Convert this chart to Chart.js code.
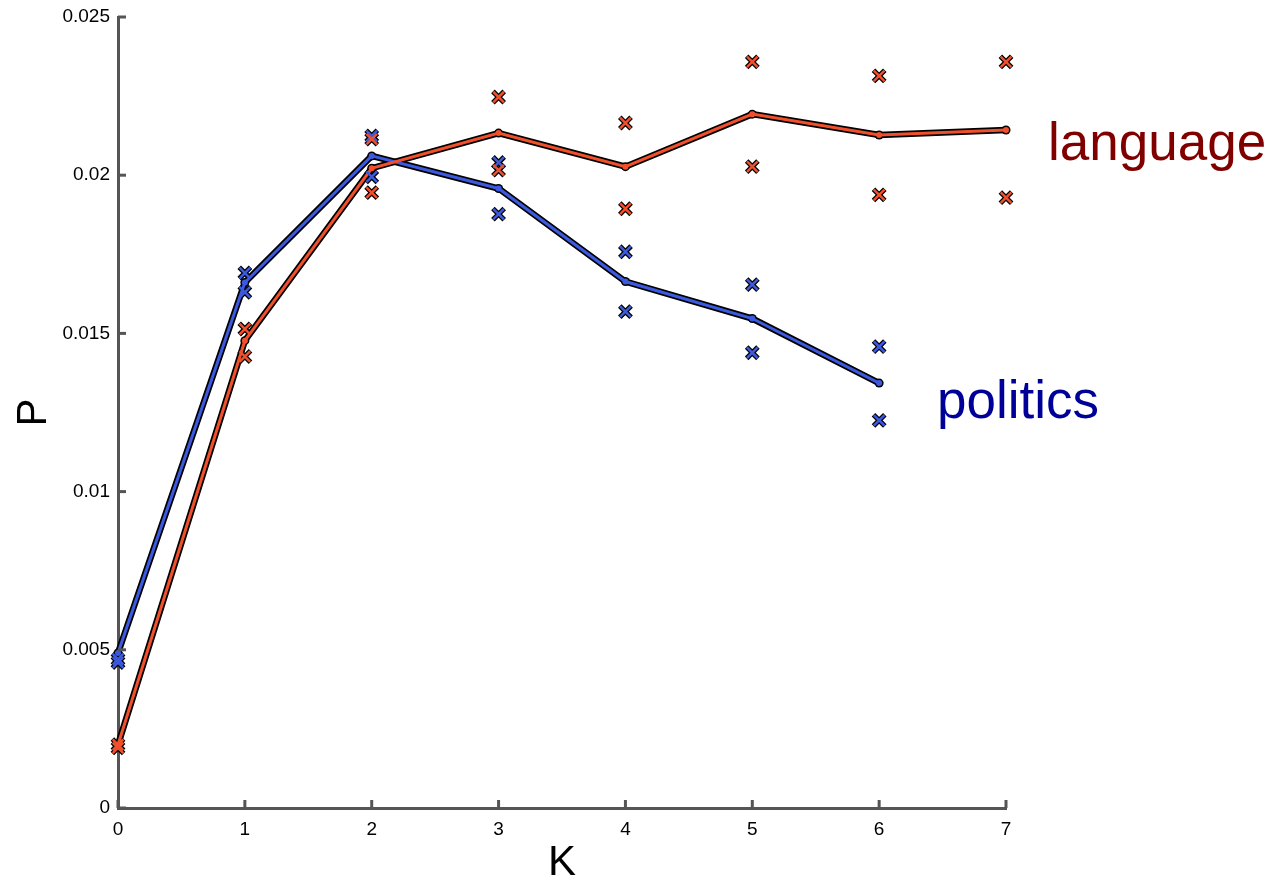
<!DOCTYPE html>
<html>
<head>
<meta charset="utf-8">
<script src="https://cdn.jsdelivr.net/npm/chart.js@4/dist/chart.umd.min.js"></script>
<style>
  html, body { margin: 0; padding: 0; background: #fff; }
  #wrap { width: 1270px; height: 881px; }
</style>
</head>
<body>
<div id="wrap"><canvas id="pChart"></canvas></div>
<script>
// K values on the x axis
const kValues = [0, 1, 2, 3, 4, 5, 6, 7];
const kTicks = [0, 1, 2, 3, 4, 5, 6, 7];
const pTicks = [0, 0.005, 0.01, 0.015, 0.02, 0.025];

// language: mean line and spread markers
const langMean = [0.0020, 0.01477, 0.02022, 0.02133, 0.02027, 0.02193, 0.02127, 0.02143];
const langHigh = [0.0020, 0.01514, 0.02114, 0.02247, 0.02165, 0.02358, 0.02314, 0.02358];
const langLow  = [0.0019, 0.01427, 0.01945, 0.02016, 0.01894, 0.02027, 0.01938, 0.01929];

// politics: mean line and spread markers (no K=7)
const polK = [0, 1, 2, 3, 4, 5, 6];
const polMean = [0.0049, 0.01661, 0.02061, 0.01958, 0.01664, 0.01547, 0.01343];
const polHigh = [0.0047, 0.01691, 0.02124, 0.02040, 0.01758, 0.01654, 0.01458];
const polLow  = [0.0046, 0.01630, 0.01995, 0.01877, 0.01569, 0.01439, 0.01225];

const RED = '#f0502c';
const BLUE = '#3c5ae0';
const FONT = '"Liberation Sans", Arial, sans-serif';

function pts(xs, ys) {
    return xs.map((x, i) => ({ x: x, y: ys[i] }));
}

function meanSets(xs, ys, color) {
    return [
        {
            data: pts(xs, ys), showLine: true, order: 1,
            borderColor: color, borderWidth: 3,
            pointRadius: 3, pointBackgroundColor: color, pointBorderWidth: 0
        },
        {
            data: pts(xs, ys), showLine: true, order: 3,
            borderColor: '#000', borderWidth: 6.5,
            pointRadius: 4.5, pointBackgroundColor: '#000', pointBorderWidth: 0
        }
    ];
}

function crossSets(xs, ys, color) {
    return [
        {
            data: pts(xs, ys), showLine: false, order: 0,
            pointStyle: 'crossRot', pointRadius: 7.5,
            pointBorderColor: color, pointBorderWidth: 2.5
        },
        {
            data: pts(xs, ys), showLine: false, order: 2,
            pointStyle: 'crossRot', pointRadius: 8,
            pointBorderColor: '#000', pointBorderWidth: 5
        }
    ];
}

// inward tick marks, like the original plot
const inwardTicks = {
    id: 'inwardTicks',
    afterDraw(chart) {
        const ctx = chart.ctx;
        const xs = chart.scales.x;
        const ys = chart.scales.y;
        const area = chart.chartArea;
        ctx.save();
        ctx.strokeStyle = '#555';
        ctx.lineWidth = 3;
        pTicks.forEach(v => {
            const py = ys.getPixelForValue(v);
            ctx.beginPath();
            ctx.moveTo(area.left, py);
            ctx.lineTo(area.left + 8, py);
            ctx.stroke();
        });
        kTicks.forEach(v => {
            const px = xs.getPixelForValue(v);
            ctx.beginPath();
            ctx.moveTo(px, area.bottom);
            ctx.lineTo(px, area.bottom - 8);
            ctx.stroke();
        });
        ctx.restore();
    }
};

// series names written next to the lines
const seriesNames = {
    id: 'seriesNames',
    afterDraw(chart) {
        const ctx = chart.ctx;
        ctx.save();
        ctx.font = '53px ' + FONT;
        ctx.textBaseline = 'alphabetic';
        ctx.textAlign = 'left';
        ctx.fillStyle = '#800000';
        ctx.fillText('language', 1048, 160);
        ctx.fillStyle = '#000099';
        ctx.fillText('politics', 937, 418);
        ctx.restore();
    }
};

const datasets = [].concat(
    meanSets(kValues, langMean, RED),
    meanSets(polK, polMean, BLUE),
    crossSets(kValues, langHigh, RED),
    crossSets(kValues, langLow, RED),
    crossSets(polK, polHigh, BLUE),
    crossSets(polK, polLow, BLUE)
);

new Chart(document.getElementById('pChart').getContext('2d'), {
    type: 'scatter',
    data: { datasets: datasets.map(d => Object.assign({ clip: false }, d)) },
    options: {
        responsive: true,
        maintainAspectRatio: false,
        animation: false,
        layout: { padding: { top: 17, right: 264, left: 0, bottom: 0 } },
        plugins: { legend: { display: false }, tooltip: { enabled: false } },
        scales: {
            x: {
                type: 'linear', min: 0, max: 7,
                afterFit: s => { s.height = 73; },
                afterBuildTicks: s => { s.ticks = kTicks.map(v => ({ value: v })); },
                grid: { display: false },
                border: { display: true, color: '#555', width: 3 },
                ticks: {
                    padding: 2,
                    color: '#000',
                    font: { family: FONT, size: 19 }
                },
                title: {
                    display: true, text: 'K', color: '#000',
                    padding: { top: 0, bottom: -3 },
                    font: { family: FONT, size: 42, lineHeight: 1 }
                }
            },
            y: {
                type: 'linear', min: 0, max: 0.025,
                afterFit: s => { s.width = 118; },
                afterBuildTicks: s => { s.ticks = pTicks.map(v => ({ value: v })); },
                grid: { display: false },
                border: { display: true, color: '#555', width: 3 },
                ticks: {
                    padding: 0,
                    color: '#000',
                    font: { family: FONT, size: 19 },
                    callback: v => String(Number(v.toFixed(3)))
                },
                title: {
                    display: true, text: 'P', color: '#000',
                    padding: { top: 13, bottom: 0 },
                    font: { family: FONT, size: 42, lineHeight: 1 }
                }
            }
        }
    },
    plugins: [inwardTicks, seriesNames]
});
</script>
</body>
</html>
